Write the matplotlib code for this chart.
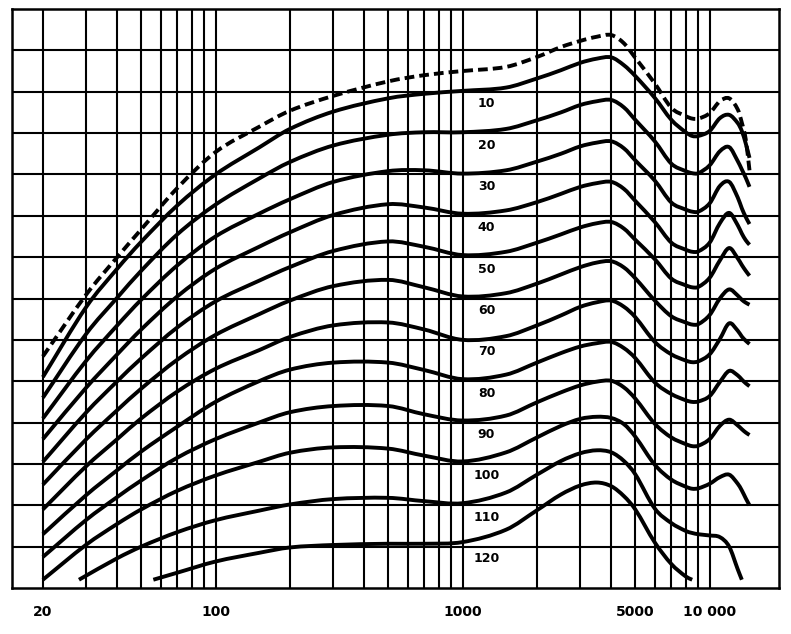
import numpy as np
import matplotlib
matplotlib.use("Agg")
import matplotlib.pyplot as plt
from matplotlib.path import Path
from matplotlib.patches import PathPatch

nan = np.nan

# frequency grid (Hz) shared by all curves
freq = [20, 28, 30, 40, 50, 56, 70, 100, 150, 200, 300, 500, 700, 1000, 1500, 2000, 2500,
        3000, 3500, 4000, 4500, 5000, 6000, 7000, 8000, 8500, 9000, 10000, 11000, 12000,
        13000, 13500, 14000, 14500]

# threshold of hearing (dashed), dB
threshold = [74, nan, 59, 50, 43.3, nan, 33.3, 24.6, 18.5, 14.6, 11, 7.5, 6, 5, 4, 1.6, -0.8,
             -2.3, -3.3, -3.7, -1.7, 1.8, 8, 13.9, 15.9, 16.5, 16.5, 15.2, 12.3, 11.6,
             14.3, 17.5, 21.5, 29]

# equal loudness contours, dB
phon_10 = [79, nan, 62, 52.8, 46.3, nan, 37.5, 30, 23.5, 19, 14.8, 11.6, 10.5, 9.8, 9, 6.8, 4.8,
           3, 2, 1.7, 3.6, 6.2, 11.5, 16.8, 19.8, 20.7, 20.7, 19.5, 16.4, 15.6,
           17.6, 19.5, 22.5, 26]
phon_20 = [84, nan, 68.5, 59.8, 53.3, nan, 44.5, 37.3, 31, 27, 23, 20.4, 19.8, 19.8, 19, 16.9, 15,
           13.2, 12.3, 12, 13.8, 16.8, 22, 27.4, 29.2, 29.7, 29.7, 27.8, 24.4, 23.4,
           26.8, 28.8, 30.8, 33]
phon_30 = [89, nan, 75, 66.5, 60.3, nan, 52, 45, 39.5, 36, 31.8, 29.2, 29, 29.8, 29, 26.9, 25,
           23.2, 22.3, 22, 23.7, 26.6, 31.5, 36.8, 38.5, 39, 39, 37, 32.8, 31.8,
           35.6, 38.2, 40.3, 42]
phon_40 = [94, nan, 81.5, 73.5, 67.5, nan, 59.5, 52.8, 47.5, 44, 39.8, 37.2, 38, 39.5, 38.7, 36.7, 34.7,
           33, 32.1, 31.8, 33.5, 36.4, 41.5, 46.5, 48.2, 48.7, 48.6, 46.5, 41.8, 39.3,
           42.3, 44.3, 45.9, 47]
phon_50 = [99.5, nan, 87.5, 80, 74.5, nan, 67, 60.7, 55.7, 52.4, 48.5, 46.2, 47.5, 49.5, 48.7, 46.5, 44.5,
           42.8, 41.8, 41.5, 43.1, 45.8, 50.5, 55.2, 56.8, 57.3, 57.2, 55, 50.8, 47.8,
           50.3, 51.9, 53.3, 54.5]
phon_60 = [105, nan, 94, 87, 81.8, nan, 74.8, 68.8, 63.8, 60.5, 57, 55.5, 57.3, 59.5, 58.7, 56.4, 54.2,
           52.4, 51.3, 51, 52.5, 55.1, 60.5, 64.3, 65.8, 66.3, 66.2, 64, 60, 57.8,
           59.3, 60.3, 61, 61.5]
phon_70 = [111, nan, 100.5, 94, 89, nan, 82.5, 77, 72.5, 69.3, 66.5, 65.8, 67.5, 70, 69.1, 66.5, 64.1,
           62, 60.9, 60.5, 62, 64.5, 70.5, 73.5, 75, 75.4, 75.2, 73.5, 69.8, 66,
           67.8, 69.2, 70.2, 71]
phon_80 = [117, nan, 107.5, 101.5, 97, nan, 91, 85, 80, 77.2, 75.5, 75.5, 77.3, 79.5, 78.4, 75.5, 73.2,
           71.6, 70.8, 70.5, 72, 74.4, 80.3, 83.1, 84.6, 85, 84.9, 83.6, 80.2, 77.5,
           78.6, 79.6, 80.5, 81.2]
phon_90 = [122.5, nan, 113.5, 108, 104, nan, 98.5, 94, 90, 87.5, 86, 86, 88, 89.5, 88.3, 85.1, 82.7,
           81, 80.1, 79.9, 81.5, 84.2, 90.3, 93.6, 95.2, 95.7, 95.6, 94, 90.8, 89.3,
           90.7, 91.6, 92.4, 93]
phon_100 = [128, nan, 119.5, 114.5, 111, nan, 106.5, 102.8, 99.5, 97.3, 96, 96.3, 98, 99.4, 97.2, 93.6, 90.8,
            89.1, 88.6, 88.9, 90.4, 93.4, 100.2, 103.8, 105.5, 106, 105.9, 104.8, 103.2, 102.6,
            104.8, 106.4, 108.3, 110]
phon_110 = [nan, 128, nan, 122.8, 120, nan, 116.5, 113.6, 111.3, 109.8, 108.5, 108.2, 109, 109.5, 106.9, 102.6, 99.3,
            97.4, 96.7, 97.2, 99.3, 102.5, 110.8, 114.3, 116.2, 116.7, 117, 117.3, 117.7, 120,
            125.5, 128, nan, nan]
phon_120 = [nan, nan, nan, nan, nan, 128, 126.3, 123.6, 121.5, 120.2, 119.6, 119.3, 119.3, 118.9, 115.9, 111.2, 107.4,
            105.2, 104.5, 105.4, 107.8, 111, 119, 124.2, 127.2, 128, nan, nan, nan, nan,
            nan, nan, nan, nan]

phons = [10, 20, 30, 40, 50, 60, 70, 80, 90, 100, 110, 120]
contours = [phon_10, phon_20, phon_30, phon_40, phon_50, phon_60,
            phon_70, phon_80, phon_90, phon_100, phon_110, phon_120]

grid_freqs = [20, 30, 40, 50, 60, 70, 80, 90, 100, 200, 300, 400, 500, 600, 700, 800, 900,
              1000, 2000, 3000, 4000, 5000, 6000, 7000, 8000, 9000, 10000]
grid_levels = list(range(0, 130, 10))
tick_freqs = [20, 100, 1000, 5000, 10000]
tick_labels = ["20", "100", "1000", "5000", "10 000"]


def smooth_path(f, db):
    # draw the read points with cubic Hermite segments in log-frequency space
    f = np.asarray(f, float)
    db = np.asarray(db, float)
    ok = ~np.isnan(db)
    u, y = np.log10(f[ok]), db[ok]
    n = len(u)
    m = np.zeros(n)
    m[0] = (y[1] - y[0]) / (u[1] - u[0])
    m[-1] = (y[-1] - y[-2]) / (u[-1] - u[-2])
    for i in range(1, n - 1):
        m[i] = (y[i + 1] - y[i - 1]) / (u[i + 1] - u[i - 1])
    verts = [(10 ** u[0], y[0])]
    codes = [Path.MOVETO]
    for i in range(n - 1):
        h = u[i + 1] - u[i]
        verts += [(10 ** (u[i] + h / 3), y[i] + m[i] * h / 3),
                  (10 ** (u[i + 1] - h / 3), y[i + 1] - m[i + 1] * h / 3),
                  (10 ** u[i + 1], y[i + 1])]
        codes += [Path.CURVE4] * 3
    return Path(verts, codes)


fig = plt.figure(figsize=(7.91, 6.34), dpi=100)
ax = fig.add_axes([12 / 791, 46 / 634, 767 / 791, 579 / 634])
ax.set_xscale("log")
ax.set_xlim(15, 19090)
ax.set_ylim(130, -10)

for f in grid_freqs:
    ax.axvline(f, color="black", lw=1.5, zorder=1)
for lv in grid_levels:
    ax.axhline(lv, color="black", lw=1.5, zorder=1)

ax.add_patch(PathPatch(smooth_path(freq, threshold), fill=False, edgecolor="black",
                       lw=2.8, linestyle=(0, (2.5, 1.3)), zorder=3))
for n, levels in zip(phons, contours):
    ax.add_patch(PathPatch(smooth_path(freq, levels), fill=False, edgecolor="black",
                           lw=2.8, joinstyle="round", capstyle="butt", zorder=3))
    ax.text(1250, n + 2.9, str(n), ha="center", va="center", fontsize=9,
            fontweight="bold", zorder=4)

for s in ax.spines.values():
    s.set_linewidth(1.8)

ax.set_xticks(tick_freqs)
ax.set_xticklabels(tick_labels, fontsize=10, fontweight="bold")
ax.xaxis.set_minor_locator(matplotlib.ticker.NullLocator())
ax.set_yticks([])
ax.tick_params(axis="x", length=0, pad=12)

fig.savefig("out.png", dpi=100)
